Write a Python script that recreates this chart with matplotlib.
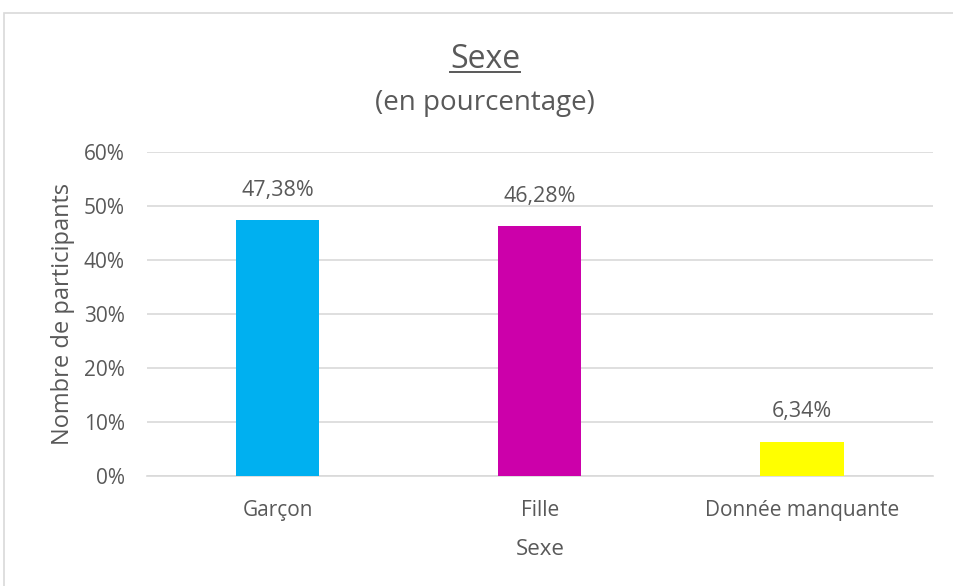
import matplotlib.pyplot as plt
from matplotlib.patches import Rectangle
from matplotlib.lines import Line2D

categories = ["Garçon", "Fille", "Donnée manquante"]
values = [47.38, 46.28, 6.34]
colors = ["#00b0f0", "#cc00aa", "#ffff00"]
yticks = [0, 10, 20, 30, 40, 50, 60]

plt.rcParams['font.family'] = ['Open Sans', 'DejaVu Sans']
gray = "#595959"

fig = plt.figure(figsize=(9.54, 5.86), dpi=100)
ax = fig.add_axes([0.154, 0.1877, 0.824, 0.5529])

# chart border (right side runs off the picture)
fig.patches.append(Rectangle((4 / 954, -0.01), 1.0, 1 - 13 / 586 + 0.01,
                             transform=fig.transFigure, fill=False,
                             edgecolor="#d9d9d9", linewidth=1.2))

x = range(len(categories))
ax.bar(x, values, width=0.317, color=colors, zorder=3)
for i, v in enumerate(values):
    ax.annotate(("%.2f%%" % v).replace(".", ","), (i, v), xytext=(0, 14),
                textcoords="offset points", ha="center", va="bottom",
                fontsize=15.5, color=gray)

ax.set_xlim(-0.5, 2.5)
ax.set_ylim(0, 60)
ax.set_yticks(yticks)
ax.set_yticklabels(["%d%%" % t for t in yticks])
ax.set_xticks(list(x))
ax.set_xticklabels(categories)
ax.tick_params(length=0, labelsize=15, labelcolor=gray)
ax.tick_params(axis="x", pad=17)
ax.tick_params(axis="y", pad=16)
ax.grid(axis="y", color="#d9d9d9", linewidth=1.2, zorder=0)
for s in ["top", "left", "right"]:
    ax.spines[s].set_visible(False)
ax.spines["bottom"].set_color("#d9d9d9")
ax.spines["bottom"].set_linewidth(1.2)

ax.set_xlabel("Sexe", fontsize=16, color=gray, labelpad=13)
ax.set_ylabel("Nombre de participants", fontsize=17, color=gray, labelpad=6)

title = fig.text(485 / 954, 1 - 60 / 586, "Sexe", ha="center", va="center",
                 fontsize=23, color=gray)
fig.text(485 / 954, 1 - 103 / 586, "(en pourcentage)", ha="center", va="center",
         fontsize=20, color=gray)

# underline the title
fig.canvas.draw()
bb = title.get_window_extent().transformed(fig.transFigure.inverted())
fig.lines.append(Line2D([bb.x0, bb.x1], [bb.y0 + 0.008, bb.y0 + 0.008],
                        transform=fig.transFigure, color=gray, linewidth=1.4))

fig.savefig("out.png", dpi=100)
